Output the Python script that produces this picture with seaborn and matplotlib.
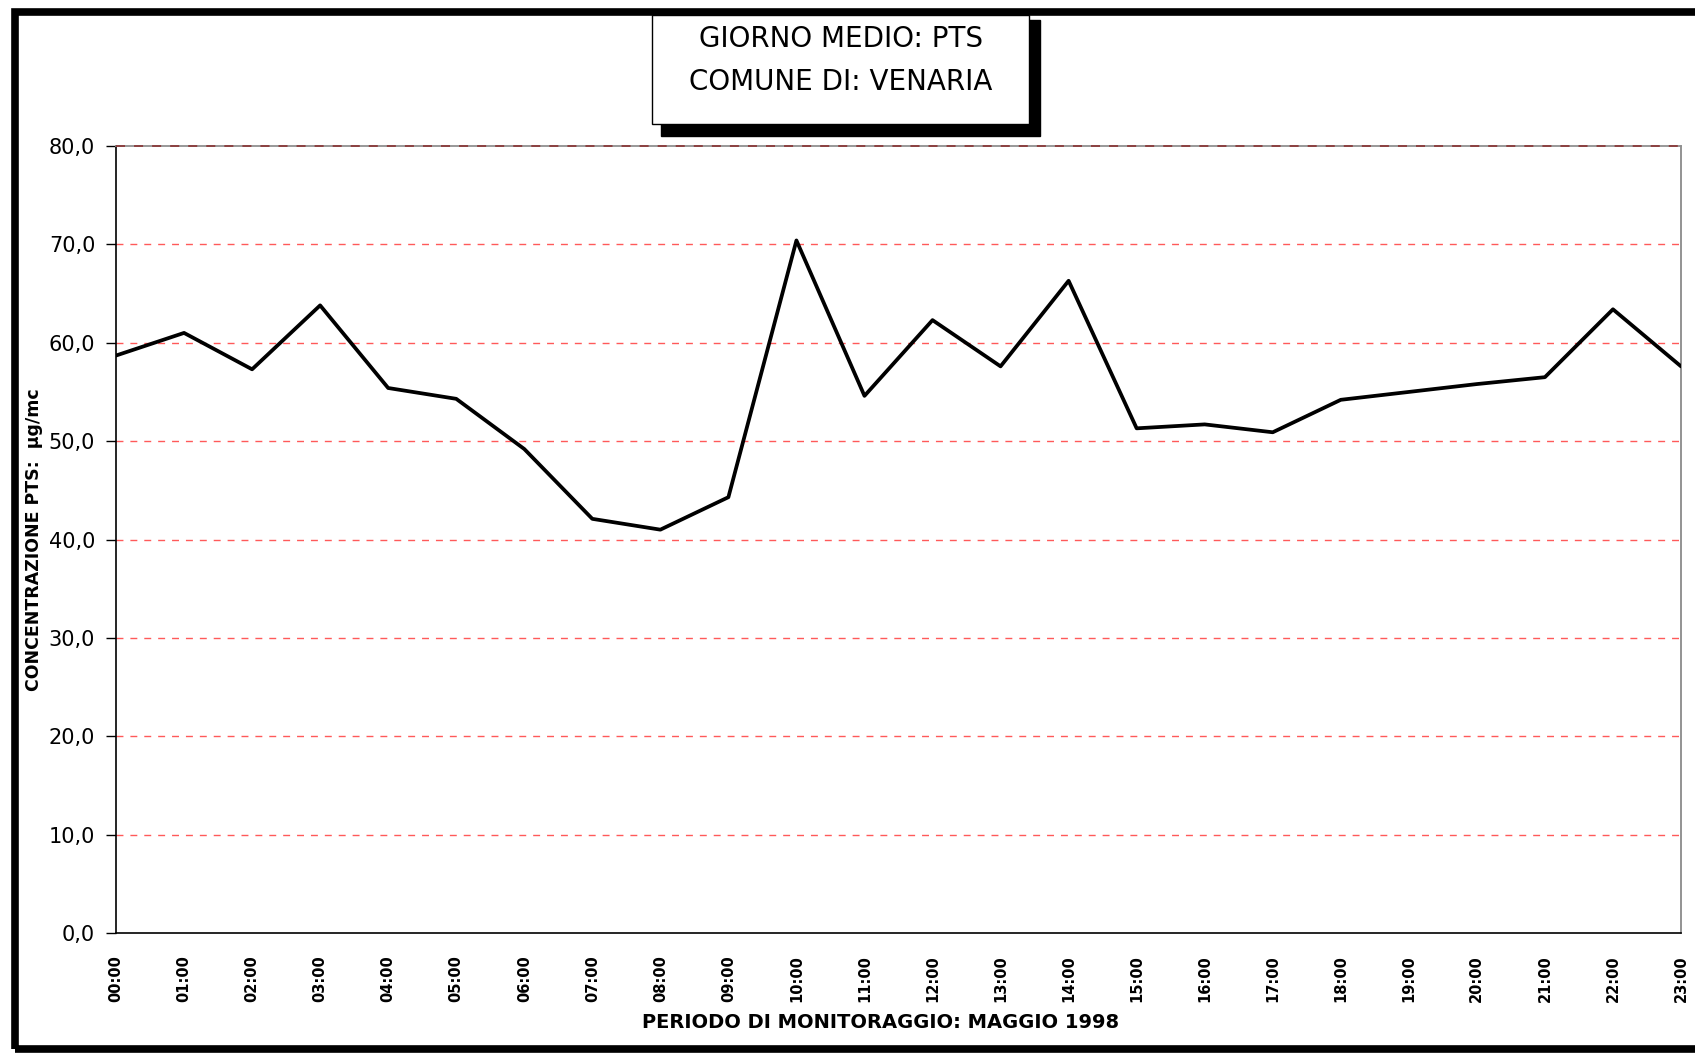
import matplotlib
matplotlib.use("Agg")
import matplotlib.pyplot as plt
import seaborn as sns
import pandas as pd
from matplotlib.patches import Rectangle
from matplotlib.ticker import FuncFormatter

# Average day of PTS concentration, hourly values (µg/mc)
hours = [f"{h:02d}:00" for h in range(24)]
pts_values = [58.7, 61.0, 57.3, 63.8, 55.4, 54.3, 49.2, 42.1, 41.0, 44.3,
              70.4, 54.6, 62.3, 57.6, 66.3, 51.3, 51.7, 50.9, 54.2, 55.0,
              55.8, 56.5, 63.4, 57.6]
y_ticks = [0, 10, 20, 30, 40, 50, 60, 70, 80]

df = pd.DataFrame({"pos": range(len(hours)), "ora": hours, "pts": pts_values})

sns.set_theme(style="white")
plt.rcParams['font.family'] = ['DejaVu Sans']
plt.rcParams.update({"text.color": "black", "axes.labelcolor": "black",
                     "xtick.color": "black", "ytick.color": "black"})

W, H = 1695, 1053
fig = plt.figure(figsize=(W / 100, H / 100), dpi=100)
ax = fig.add_axes([116 / W, 1 - 933 / H, (1681 - 116) / W, (933 - 146) / H])

sns.lineplot(data=df, x="pos", y="pts", ax=ax, color="black", linewidth=2.7, zorder=5)

ax.set_xlim(0, len(hours) - 1)
ax.set_ylim(0, 80)
ax.set_yticks(y_ticks)
ax.yaxis.set_major_formatter(FuncFormatter(lambda v, _: f"{v:.1f}".replace(".", ",")))
ax.set_xticks(range(len(hours)))
ax.set_xticklabels(hours, rotation=90, fontsize=10.5, fontweight="bold", color="black")
ax.tick_params(axis="y", labelsize=15, length=7, width=1, direction="out", left=True, pad=8, colors="black")
ax.tick_params(axis="x", length=0, pad=16)

# red dashed horizontal grid
for yv in y_ticks[1:-1]:
    ax.axhline(yv, color="#ff5a5a", linestyle=(0, (5, 5)), linewidth=1.0, zorder=2)
ax.axhline(80, color="#8b3a3a", linestyle=(0, (5, 5)), linewidth=1.3, zorder=3, clip_on=False)

for side in ["left", "bottom"]:
    ax.spines[side].set_color("black")
    ax.spines[side].set_linewidth(1.2)
ax.spines["right"].set_color("#808080")
ax.spines["right"].set_linewidth(1.2)
ax.spines["top"].set_color("#909090")
ax.spines["top"].set_linewidth(1.3)

ax.set_xlabel("PERIODO DI MONITORAGGIO: MAGGIO 1998", fontsize=14, fontweight="bold", color="black")
ax.set_ylabel("CONCENTRAZIONE PTS:  µg/mc", fontsize=12.5, fontweight="bold", color="black")
ax.xaxis.set_label_coords((881 - 116) / (1681 - 116), -(1013 - 933) / (933 - 146))
ax.yaxis.set_label_coords(-(116 - 43) / (1681 - 116), 0.5)

# title box with drop shadow
fig.patches.append(Rectangle((661 / W, 1 - 136 / H), (1040 - 661) / W, (136 - 20) / H,
                             transform=fig.transFigure, facecolor="black", edgecolor="black", zorder=3))
fig.patches.append(Rectangle((652 / W, 1 - 124 / H), (1029 - 652) / W, (124 - 15) / H,
                             transform=fig.transFigure, facecolor="white", edgecolor="black",
                             linewidth=1.0, zorder=4))
fig.text(841 / W, 1 - 39 / H, "GIORNO MEDIO: PTS", ha="center", va="center",
         fontsize=20, color="black", zorder=6)
fig.text(841 / W, 1 - 82 / H, "COMUNE DI: VENARIA", ha="center", va="center",
         fontsize=20, color="black", zorder=6)

# thick outer frame
fig.patches.append(Rectangle((14.5 / W, 1 - 1049 / H), (1720 - 14.5) / W, (1049 - 11.5) / H,
                             transform=fig.transFigure, facecolor="none", edgecolor="black",
                             linewidth=5.5, zorder=1, clip_on=False))

fig.savefig("out.png", dpi=100)
